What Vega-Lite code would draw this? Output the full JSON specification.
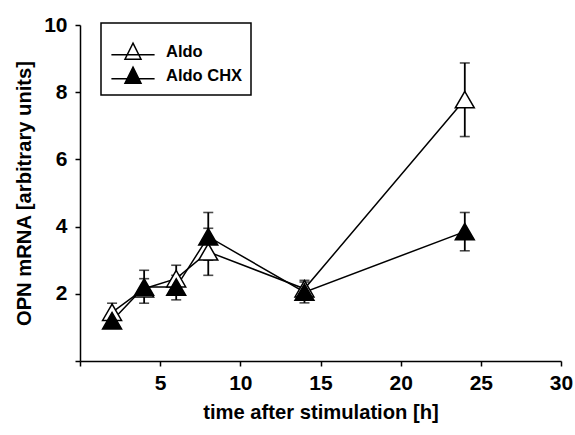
{
  "$schema": "https://vega.github.io/schema/vega-lite/v6.json",
  "width": 481,
  "height": 336,
  "autosize": "none",
  "padding": {"left": 80, "top": 25, "right": 14, "bottom": 74},
  "background": "white",
  "config": {
    "view": {"stroke": null},
    "font": "Liberation Sans",
    "axis": {
      "grid": false,
      "labelFlush": false,
      "domainColor": "black",
      "domainWidth": 1.5,
      "tickColor": "black",
      "tickWidth": 1.5,
      "tickSize": 5,
      "labelColor": "black",
      "labelFont": "Liberation Sans",
      "labelFontWeight": "bold",
      "labelFontSize": 21,
      "titleColor": "black",
      "titleFont": "Liberation Sans",
      "titleFontWeight": "bold",
      "titleFontSize": 20.2
    }
  },
  "data": {
    "values": [
      {"series": "Aldo", "time": 2, "mean": 1.45, "lo": 1.2, "hi": 1.72},
      {"series": "Aldo", "time": 4, "mean": 2.15, "lo": 1.95, "hi": 2.45},
      {"series": "Aldo", "time": 6, "mean": 2.45, "lo": 2.1, "hi": 2.85},
      {"series": "Aldo", "time": 8, "mean": 3.25, "lo": 2.55, "hi": 3.95},
      {"series": "Aldo", "time": 14, "mean": 2.15, "lo": 1.9, "hi": 2.4},
      {"series": "Aldo", "time": 24, "mean": 7.78, "lo": 6.68, "hi": 8.87},
      {"series": "Aldo CHX", "time": 2, "mean": 1.2, "lo": 1.05, "hi": 1.35},
      {"series": "Aldo CHX", "time": 4, "mean": 2.2, "lo": 1.72, "hi": 2.7},
      {"series": "Aldo CHX", "time": 6, "mean": 2.2, "lo": 1.82, "hi": 2.55},
      {"series": "Aldo CHX", "time": 8, "mean": 3.7, "lo": 3.0, "hi": 4.42},
      {"series": "Aldo CHX", "time": 14, "mean": 2.05, "lo": 1.73, "hi": 2.35},
      {"series": "Aldo CHX", "time": 24, "mean": 3.85, "lo": 3.28, "hi": 4.42}
    ]
  },
  "encoding": {
    "x": {
      "field": "time",
      "type": "quantitative",
      "scale": {"domain": [0, 30], "nice": false, "zero": false},
      "axis": {
        "title": "time after stimulation [h]",
        "values": [0, 5, 10, 15, 20, 25, 30],
        "labelExpr": "datum.value == 0 ? '' : datum.label",
        "labelPadding": 6,
        "titlePadding": 9
      }
    }
  },
  "layer": [
    {
      "mark": {"type": "rule", "color": "black", "strokeWidth": 1.8},
      "encoding": {
        "y": {"field": "lo", "type": "quantitative"},
        "y2": {"field": "hi"}
      }
    },
    {
      "mark": {"type": "tick", "orient": "horizontal", "color": "black", "size": 10, "thickness": 1.6},
      "encoding": {"y": {"field": "lo", "type": "quantitative"}}
    },
    {
      "mark": {"type": "tick", "orient": "horizontal", "color": "black", "size": 10, "thickness": 1.6},
      "encoding": {"y": {"field": "hi", "type": "quantitative"}}
    },
    {
      "mark": {"type": "line", "color": "black", "strokeWidth": 1.5},
      "encoding": {
        "y": {"field": "mean", "type": "quantitative"},
        "detail": {"field": "series"}
      }
    },
    {
      "mark": {"type": "point", "shape": "triangle-up", "filled": true, "stroke": "black", "strokeWidth": 1.5, "size": 360, "opacity": 1},
      "encoding": {
        "y": {
          "field": "mean",
          "type": "quantitative",
          "scale": {"domain": [0, 10], "nice": false},
          "axis": {
            "title": "OPN mRNA [arbitrary units]",
            "values": [0, 2, 4, 6, 8, 10],
            "labelExpr": "datum.value == 0 ? '' : datum.label",
            "labelPadding": 8,
            "titlePadding": 9
          }
        },
        "fill": {
          "field": "series",
          "type": "nominal",
          "scale": {"domain": ["Aldo", "Aldo CHX"], "range": ["white", "black"]},
          "legend": {
            "title": " ",
            "titleFontSize": 12,
            "titlePadding": 0,
            "orient": "none",
            "legendX": 21,
            "legendY": -2,
            "strokeColor": "black",
            "padding": 8,
            "symbolType": "M-2.7,0.35H2.7M0,-1.1L1,0.9H-1Z",
            "symbolSize": 256,
            "symbolOffset": 15,
            "symbolStrokeColor": "black",
            "symbolStrokeWidth": 1.5,
            "symbolOpacity": 1,
            "labelFont": "Liberation Sans",
            "labelFontWeight": "bold",
            "labelFontSize": 16.5,
            "labelColor": "black",
            "labelOffset": 24,
            "rowPadding": 1,
            "encode": {"legend": {"update": {"strokeWidth": {"value": 1.5}}}}
          }
        }
      }
    }
  ]
}
